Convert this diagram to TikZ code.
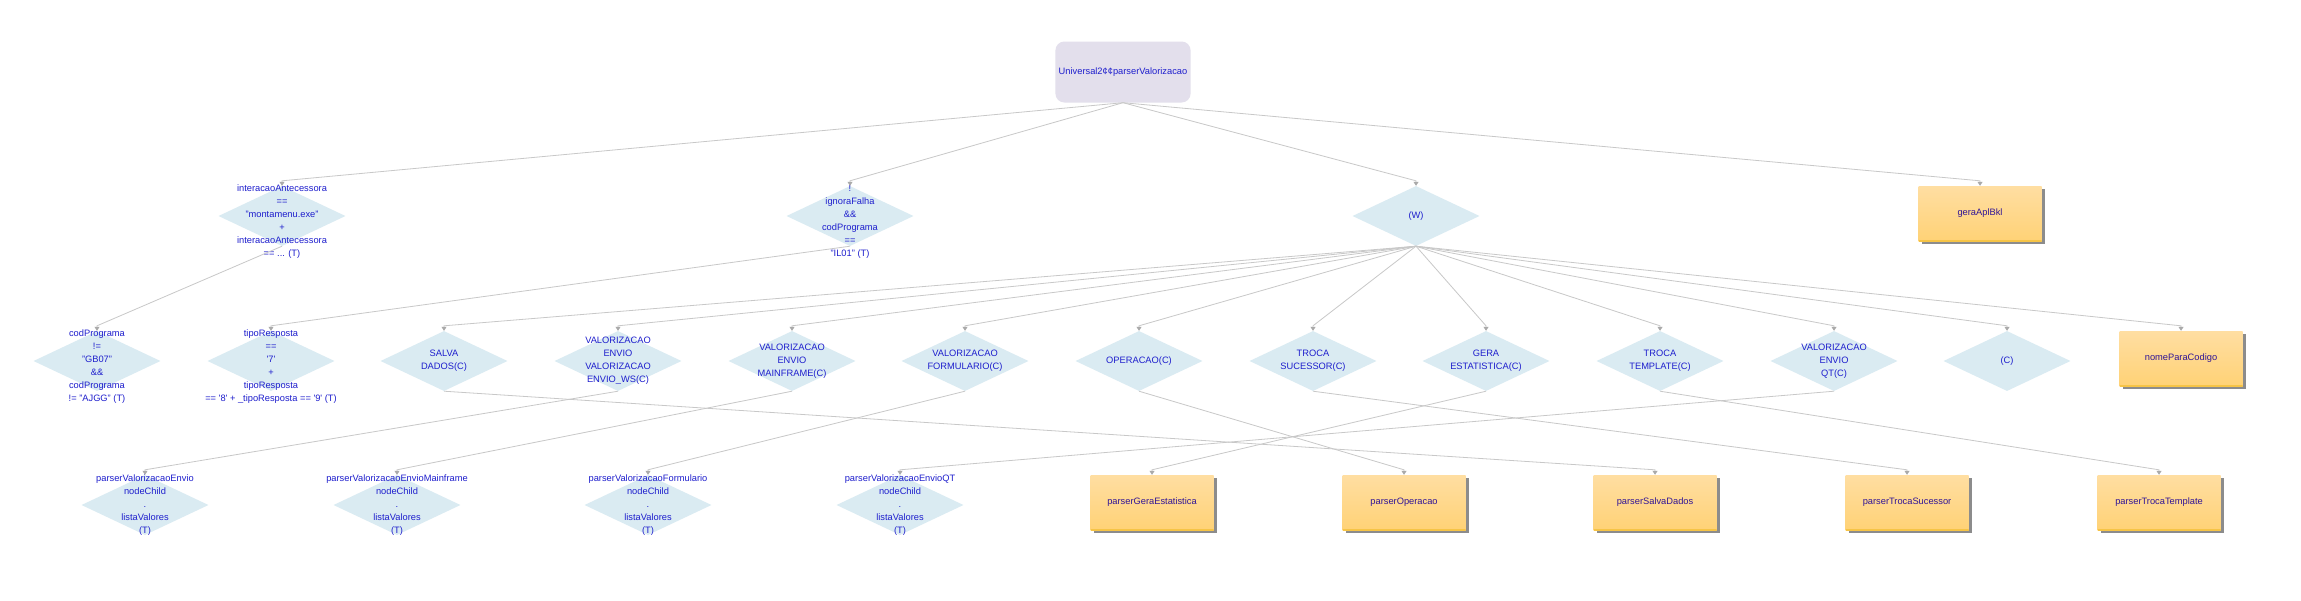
\documentclass[tikz,border=0pt]{standalone}
\usepackage{fontspec}
\setmainfont{Liberation Sans}
\usetikzlibrary{shapes.geometric,arrows.meta,shadows,calc}
\definecolor{condfill}{RGB}{218,235,242}
\definecolor{rootfill}{RGB}{227,223,236}
\definecolor{boxtop}{RGB}{255,222,162}
\definecolor{boxbot}{RGB}{255,210,118}
\definecolor{boxrim}{RGB}{246,196,70}
\definecolor{edgegray}{RGB}{200,200,200}
\definecolor{tipgray}{RGB}{170,170,170}
\definecolor{condtext}{RGB}{30,30,205}
\definecolor{leaftext}{RGB}{48,20,150}
\begin{document}
\begin{tikzpicture}[x=1pt,y=-1pt,
every node/.style={font=\fontsize{9.3}{13}\selectfont},
cond/.style={diamond,fill=condfill,minimum width=127pt,minimum height=60pt,inner sep=0pt},
condtxt/.style={text=condtext,align=center,inner sep=0pt},
leaf/.style={rectangle,minimum width=123pt,minimum height=55pt,top color=boxtop,bottom color=boxbot,text=leaftext,
drop shadow={shadow xshift=3pt,shadow yshift=-3pt,fill=black!45,opacity=1},
path picture={\draw[boxrim,line width=2pt](path picture bounding box.south west)--(path picture bounding box.south east);}},
rootbox/.style={rectangle,rounded corners=9pt,fill=rootfill,minimum width=127pt,minimum height=61pt,text=condtext},
link/.style={draw=edgegray,line width=.8pt,-{Triangle[width=5pt,length=4pt,color=tipgray]}}]
\newcommand{\Cond}[5][]{\node[cond,label={[condtxt,#1]center:{#5}}](#2)at(#3,#4){};}
\newcommand{\Link}[2]{\draw[link](#1.south)--($(#2.north)+(0,-5)$)--(#2.north);}
\fill[white](0,0)rectangle(2301,600);
\node[rootbox](root)at(1123,72){Universal2¢¢parserValorizacao};
\Cond[yshift=-6pt]{ia}{282}{216}{interacaoAntecessora\\==\\"montamenu.exe"\\+\\interacaoAntecessora\\== ... (T)}
\Cond[yshift=-6pt]{ig}{850}{216}{!\\ignoraFalha\\\&\&\\codPrograma\\==\\"IL01" (T)}
\Cond{w}{1416}{216}{(W)}
\node[leaf](gera)at(1980,213.5){geraAplBkl};
\Cond[yshift=-6pt]{cp}{97}{361}{codPrograma\\!=\\"GB07"\\\&\&\\codPrograma\\!= "AJGG" (T)}
\Cond[yshift=-6pt]{tr}{271}{361}{tipoResposta\\==\\\textquotesingle7\textquotesingle\\+\\tipoResposta\\== \textquotesingle8\textquotesingle{} + \_tipoResposta == \textquotesingle9\textquotesingle{} (T)}
\Cond{sd}{444}{361}{SALVA\\DADOS(C)}
\Cond{vw}{618}{361}{VALORIZACAO\\ENVIO\\VALORIZACAO\\ENVIO\_WS(C)}
\Cond{vm}{792}{361}{VALORIZACAO\\ENVIO\\MAINFRAME(C)}
\Cond{vf}{965}{361}{VALORIZACAO\\FORMULARIO(C)}
\Cond{op}{1139}{361}{OPERACAO(C)}
\Cond{ts}{1313}{361}{TROCA\\SUCESSOR(C)}
\Cond{ge}{1486}{361}{GERA\\ESTATISTICA(C)}
\Cond{tt}{1660}{361}{TROCA\\TEMPLATE(C)}
\Cond{vq}{1834}{361}{VALORIZACAO\\ENVIO\\QT(C)}
\Cond{cc}{2007}{361}{(C)}
\node[leaf](np)at(2181,358.5){nomeParaCodigo};
\Cond{pve}{145}{505}{parserValorizacaoEnvio\\nodeChild\\.\\listaValores\\(T)}
\Cond{pvm}{397}{505}{parserValorizacaoEnvioMainframe\\nodeChild\\.\\listaValores\\(T)}
\Cond{pvf}{648}{505}{parserValorizacaoFormulario\\nodeChild\\.\\listaValores\\(T)}
\Cond{pvq}{900}{505}{parserValorizacaoEnvioQT\\nodeChild\\.\\listaValores\\(T)}
\node[leaf](pge)at(1152,502.5){parserGeraEstatistica};
\node[leaf](pop)at(1404,502.5){parserOperacao};
\node[leaf](psd)at(1655,502.5){parserSalvaDados};
\node[leaf](pts)at(1907,502.5){parserTrocaSucessor};
\node[leaf](ptt)at(2159,502.5){parserTrocaTemplate};
\Link{root}{ia}
\Link{root}{ig}
\Link{root}{w}
\Link{root}{gera}
\Link{ia}{cp}
\Link{ig}{tr}
\Link{w}{sd}
\Link{w}{vw}
\Link{w}{vm}
\Link{w}{vf}
\Link{w}{op}
\Link{w}{ts}
\Link{w}{ge}
\Link{w}{tt}
\Link{w}{vq}
\Link{w}{cc}
\Link{w}{np}
\Link{sd}{psd}
\Link{vw}{pve}
\Link{vm}{pvm}
\Link{vf}{pvf}
\Link{op}{pop}
\Link{ts}{pts}
\Link{ge}{pge}
\Link{tt}{ptt}
\Link{vq}{pvq}
\end{tikzpicture}
\end{document}
